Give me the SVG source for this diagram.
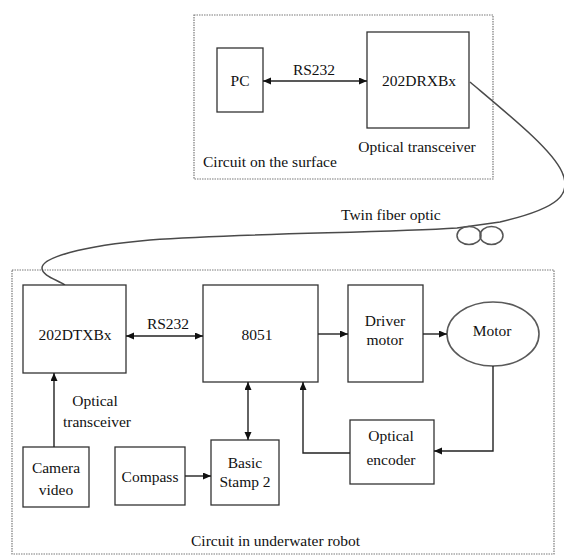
<svg xmlns="http://www.w3.org/2000/svg" width="564" height="556" viewBox="0 0 564 556">
<style>
.bg{fill:#ffffff}
.frame{fill:none;stroke:#7a7a7a;stroke-width:1.2;stroke-dasharray:1.5 1}
.box{fill:#ffffff;stroke:#333333;stroke-width:1.3}
.ell{fill:#ffffff;stroke:#5a5a5a;stroke-width:1.6}
text{font-family:'Liberation Serif','DejaVu Serif','Times New Roman',serif;font-size:15.5px;fill:#111111}
.t{text-anchor:middle}
.c{fill:none;stroke:#222222;stroke-width:1.4}
.fiber{fill:none;stroke:#4a4a4a;stroke-width:1.5}
.coil{fill:none;stroke:#555555;stroke-width:1.5}
</style>
<defs>
<marker id="ah" markerUnits="userSpaceOnUse" markerWidth="9" markerHeight="8" refX="8" refY="3.5" orient="auto-start-reverse">
<path d="M0,0 L8,3.5 L0,7 z" fill="#111111"/>
</marker>
</defs>
<rect class="bg" x="0" y="0" width="564" height="556"/>

<g id="surface-frame">
<rect class="frame" x="194" y="15" width="299" height="164"/>
<text x="203" y="167" font-family="Liberation Serif, serif">Circuit on the surface</text>
</g>
<g id="underwater-frame">
<rect class="frame" x="12" y="270" width="542" height="284"/>
<text x="191" y="546">Circuit in underwater robot</text>
</g>

<g id="fiber">
<path class="fiber" d="M470,82 C515,120 552,150 562,172 C572,194 560,208 500,222 L457,228 C380,233 250,233 150,240 C80,246 42,258 42,268 C42,276 58,280 65,285"/>
<ellipse class="coil" cx="469" cy="235.5" rx="12" ry="9"/>
<ellipse class="coil" cx="491.5" cy="235.5" rx="11.5" ry="9"/>
<text x="341" y="220">Twin fiber optic</text>
</g>

<g id="pc">
<rect class="box" x="217" y="48" width="46" height="64"/>
<text class="t" x="240" y="86">PC</text>
</g>
<g id="rx">
<rect class="box" x="367" y="32" width="102" height="96"/>
<text class="t" x="419" y="86">202DRXBx</text>
<text class="t" x="417" y="152">Optical transceiver</text>
</g>

<g id="tx">
<rect class="box" x="23" y="285" width="103" height="88"/>
<text class="t" x="75" y="340">202DTXBx</text>
<text class="t" x="95" y="406">Optical</text>
<text class="t" x="97" y="427">transceiver</text>
</g>
<g id="mcu">
<rect class="box" x="203" y="285" width="115" height="97"/>
<text class="t" x="257" y="340">8051</text>
</g>
<g id="driver">
<rect class="box" x="348" y="285" width="75" height="97"/>
<text class="t" x="385" y="326">Driver</text>
<text class="t" x="385" y="345">motor</text>
</g>
<g id="motor">
<ellipse class="ell" cx="493" cy="334" rx="46" ry="32"/>
<text class="t" x="492" y="336">Motor</text>
</g>
<g id="encoder">
<rect class="box" x="350" y="420" width="84" height="64"/>
<text class="t" x="391" y="441">Optical</text>
<text class="t" x="391" y="465">encoder</text>
</g>
<g id="camera">
<rect class="box" x="23" y="447" width="66" height="60"/>
<text class="t" x="56" y="473">Camera</text>
<text class="t" x="56" y="495">video</text>
</g>
<g id="compass">
<rect class="box" x="115" y="447" width="70" height="58"/>
<text class="t" x="150" y="482">Compass</text>
</g>
<g id="stamp">
<rect class="box" x="211" y="440" width="68" height="65"/>
<text class="t" x="245" y="468">Basic</text>
<text class="t" x="245" y="487">Stamp 2</text>
</g>

<g id="connectors">
<line class="c" x1="263" y1="81" x2="367" y2="81" marker-start="url(#ah)" marker-end="url(#ah)"/>
<text class="t" x="314" y="75">RS232</text>
<line class="c" x1="126" y1="336" x2="203" y2="336" marker-start="url(#ah)" marker-end="url(#ah)"/>
<text class="t" x="168" y="329">RS232</text>
<line class="c" x1="54" y1="447" x2="54" y2="373" marker-end="url(#ah)"/>
<line class="c" x1="185" y1="476" x2="211" y2="476" marker-end="url(#ah)"/>
<line class="c" x1="248" y1="382" x2="248" y2="440" marker-start="url(#ah)" marker-end="url(#ah)"/>
<line class="c" x1="318" y1="334" x2="348" y2="334" marker-end="url(#ah)"/>
<line class="c" x1="423" y1="334" x2="447" y2="334" marker-end="url(#ah)"/>
<path class="c" d="M493,366 V451 H434" marker-end="url(#ah)"/>
<path class="c" d="M350,453 H303 V382" marker-end="url(#ah)"/>
</g>
</svg>
